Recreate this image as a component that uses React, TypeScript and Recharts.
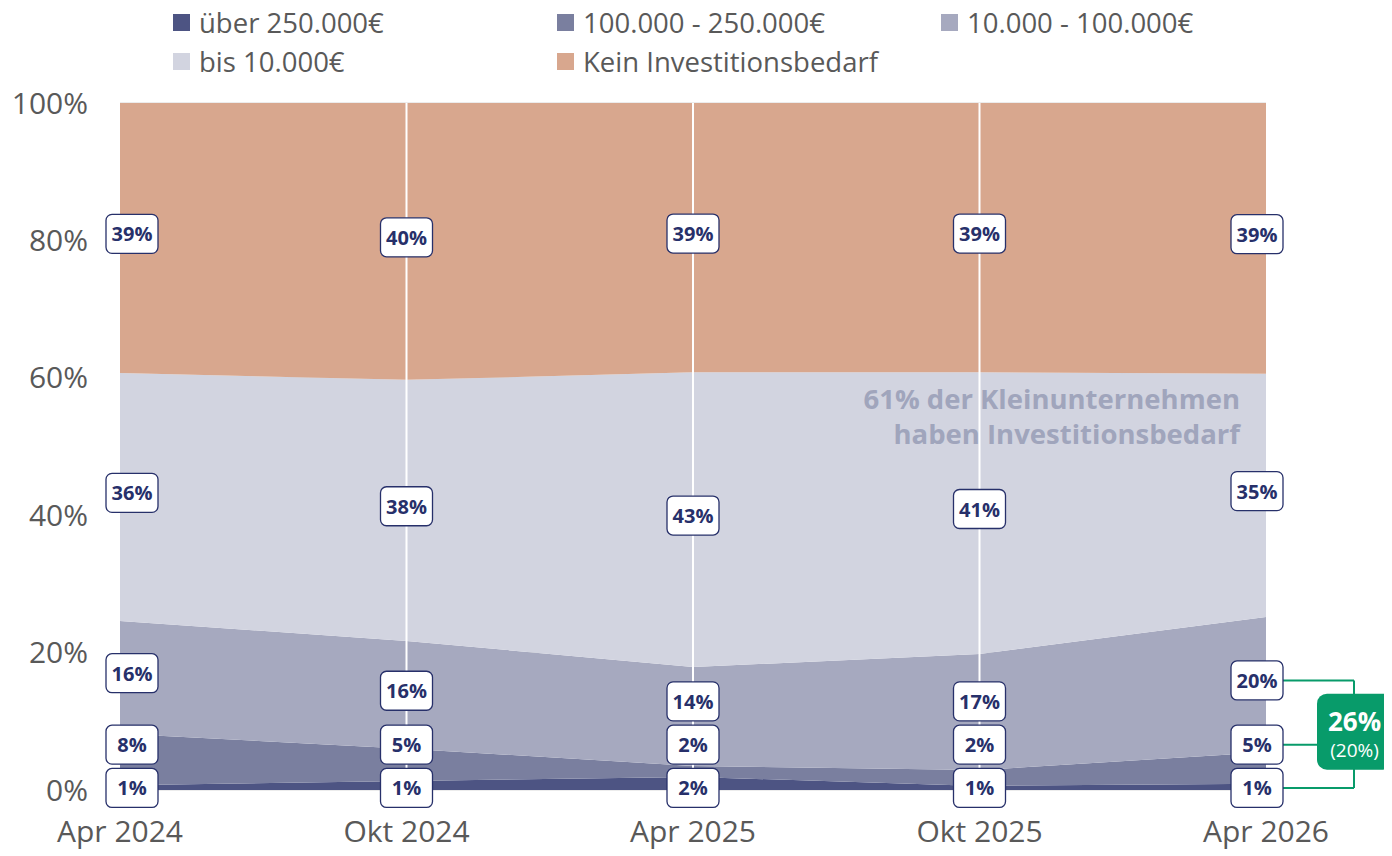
import React from 'react'
import {
  ComposedChart,
  Area,
  Line,
  LabelList,
  XAxis,
  YAxis,
  CartesianGrid,
  ReferenceLine,
  ReferenceDot,
  usePlotArea,
} from 'recharts'

const CATEGORIES = ['Apr 2024', 'Okt 2024', 'Apr 2025', 'Okt 2025', 'Apr 2026']
const UEBER_250K = [0.7, 1.3, 1.9, 0.6, 0.9]
const FROM_100K = [7.5, 4.7, 1.6, 2.3, 4.6]
const FROM_10K = [16.4, 15.7, 14.4, 16.9, 19.7]
const BIS_10K = [36.1, 38.0, 42.9, 41.0, 35.4]
const KEIN = [39.3, 40.3, 39.2, 39.2, 39.4]
const Y_TICKS = [0, 20, 40, 60, 80, 100]

const SERIES = [
  { key: 'ueber', name: 'über 250.000€', color: '#4d5483', values: UEBER_250K },
  { key: 'mid', name: '100.000 - 250.000€', color: '#7a7f9f', values: FROM_100K },
  { key: 'low', name: '10.000 - 100.000€', color: '#a6a9bf', values: FROM_10K },
  { key: 'small', name: 'bis 10.000€', color: '#d2d4e0', values: BIS_10K },
  { key: 'kein', name: 'Kein Investitionsbedarf', color: '#d8a78e', values: KEIN },
]

const data = CATEGORIES.map((cat, i) => {
  const row: Record<string, any> = { cat }
  SERIES.forEach((s) => (row[s.key] = s.values[i]))
  return row
})

const FONT = '"Open Sans", "Noto Sans", sans-serif'
const W = 1384
const H = 848
const MARGIN = { top: 95, right: 126, bottom: 0, left: 0 }
const NAVY = '#27306a'
const GREEN = '#089b6a'

// label centre for each band: middle of band, pushed up so boxes don't overlap
function labelPositions(row: Record<string, any>) {
  const out: number[] = []
  let base = 0
  let prev = -Infinity
  SERIES.forEach((s, k) => {
    const v = row[s.key]
    const mid = base + v / 2
    const p = k === 0 ? Math.min(mid, 0.3) : Math.max(mid + 0.6, prev + 6.3)
    out.push(p)
    prev = p
    base += v
  })
  return out
}

function BoxLabel(props: any) {
  const { y, index, seriesKey } = props
  let { x } = props
  if (x == null || y == null) return null
  // keep the edge boxes pulled inside the plot a little
  if (index === 0) x += 12
  if (index === data.length - 1) x -= 9
  const text = `${Math.round(data[index][seriesKey])}%`
  return (
    <g>
      <rect x={x - 26} y={y - 19.5} width={52} height={39} rx={6} fill="#fff" stroke={NAVY} strokeWidth={1.3} />
      <text x={x} y={y} textAnchor="middle" dominantBaseline="central" fontFamily={FONT} fontWeight={700} fontSize={20} fill={NAVY}>
        {text}
      </text>
    </g>
  )
}

function Annotation(props: any) {
  const vb = props.viewBox || {}
  const cx = (vb.x ?? 0) + (vb.width ?? 0) / 2
  const cy = (vb.y ?? 0) + (vb.height ?? 0) / 2
  return (
    <text textAnchor="end" fontFamily={FONT} fontWeight={700} fontSize={27.5} fill="#a0a5bc">
      <tspan x={cx - 26} y={cy - 17.5} dominantBaseline="central">61% der Kleinunternehmen</tspan>
      <tspan x={cx - 26} y={cy + 17.5} dominantBaseline="central">haben Investitionsbedarf</tspan>
    </text>
  )
}

function Bracket() {
  const plot = usePlotArea()
  if (!plot) return null
  const yPx = (v: number) => plot.y + plot.height * (1 - v / 100)
  const right = plot.x + plot.width
  const pos = labelPositions(data[data.length - 1])
  const xB = right + 88
  const boxY = yPx(pos[1]) - 13
  return (
    <g>
      {[0, 1, 2].map((k) => (
        <line key={k} x1={right + 17} x2={xB} y1={yPx(pos[k])} y2={yPx(pos[k])} stroke={GREEN} strokeWidth={2} />
      ))}
      <line x1={xB} x2={xB} y1={yPx(pos[2])} y2={yPx(pos[0])} stroke={GREEN} strokeWidth={2} />
      <rect x={xB - 37} y={boxY - 38} width={75} height={76} rx={10} fill={GREEN} />
      <text x={xB + 0.5} y={boxY - 11} textAnchor="middle" dominantBaseline="central" fontFamily={FONT} fontWeight={700} fontSize={26} fill="#fff">
        26%
      </text>
      <text x={xB + 0.5} y={boxY + 18} textAnchor="middle" dominantBaseline="central" fontFamily={FONT} fontSize={19} fill="#fff">
        (20%)
      </text>
    </g>
  )
}

export default function App() {
  return (
    <div style={{ position: 'relative', width: W, height: H, fontFamily: FONT }}>
      <div
        style={{
          position: 'absolute',
          left: 165,
          top: -5,
          display: 'grid',
          gridTemplateColumns: 'repeat(3, 384px)',
          zIndex: 1,
        }}
      >
        {SERIES.map((s) => (
          <div key={s.key} style={{ display: 'flex', alignItems: 'center', height: 39 }}>
            <span style={{ width: 17, height: 17, background: s.color, marginRight: 9 }} />
            <span style={{ fontSize: 27.5, color: '#595959' }}>{s.name}</span>
          </div>
        ))}
      </div>
      <ComposedChart width={W} height={H} data={data} margin={MARGIN}>
        <CartesianGrid vertical={false} stroke="#d9d9d9" />
        <XAxis
          dataKey="cat"
          height={66}
          axisLine={false}
          tickLine={false}
          tickSize={0}
          tickMargin={31}
          tick={{ fontSize: 30, fill: '#595959', fontFamily: FONT }}
        />
        <YAxis
          width={112}
          domain={[0, 100]}
          ticks={Y_TICKS}
          tickFormatter={(v) => `${v}%`}
          axisLine={false}
          tickLine={false}
          tickSize={0}
          tickMargin={32}
          tick={{ fontSize: 30, fill: '#595959', fontFamily: FONT }}
        />
        {SERIES.map((s) => (
          <Area
            key={s.key}
            dataKey={s.key}
            name={s.name}
            stackId="1"
            type="linear"
            stroke="none"
            fill={s.color}
            fillOpacity={1}
            isAnimationActive={false}
          />
        ))}
        {CATEGORIES.slice(1, -1).map((c) => (
          <ReferenceLine key={c} x={c} stroke="#fff" strokeWidth={2} />
        ))}
        <ReferenceDot
          x={CATEGORIES[CATEGORIES.length - 1]}
          y={54.5}
          r={1}
          fill="none"
          stroke="none"
          label={<Annotation />}
        />
        <Bracket />
        {SERIES.map((s, k) => (
          <Line
            key={`lbl-${s.key}`}
            dataKey={(row: any) => labelPositions(row)[k]}
            stroke="none"
            dot={false}
            activeDot={false}
            legendType="none"
            isAnimationActive={false}
          >
            <LabelList content={(p: any) => <BoxLabel {...p} seriesKey={s.key} />} />
          </Line>
        ))}
      </ComposedChart>
    </div>
  )
}
